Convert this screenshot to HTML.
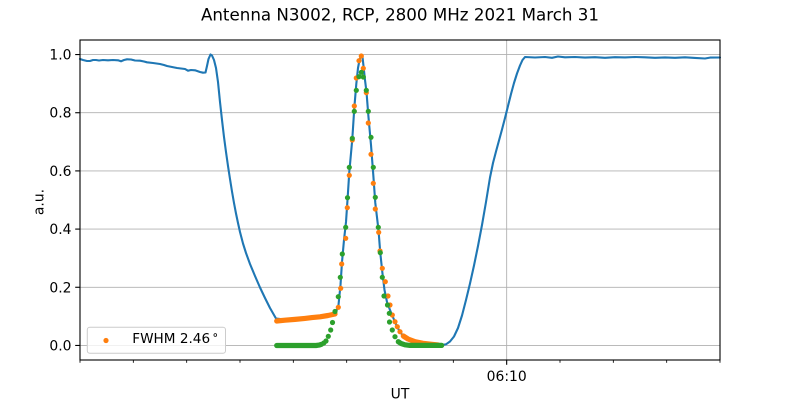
<!DOCTYPE html>
<html><head><meta charset="utf-8">
<style>
html,body{margin:0;padding:0;background:#fff;}
svg{display:block;}
text{font-family:"DejaVu Sans","Liberation Sans",sans-serif;fill:#000;}
</style></head>
<body>
<svg width="800" height="400" viewBox="0 0 800 400" xmlns="http://www.w3.org/2000/svg">
<rect x="0" y="0" width="800" height="400" fill="#fff"/>
<text x="400" y="20.7" font-size="16.7" text-anchor="middle">Antenna N3002, RCP, 2800 MHz 2021 March 31</text>

<!-- grid -->
<g stroke="#b0b0b0" stroke-width="0.9" fill="none">
<line x1="80" y1="345.45" x2="720" y2="345.45"/>
<line x1="80" y1="287.27" x2="720" y2="287.27"/>
<line x1="80" y1="229.09" x2="720" y2="229.09"/>
<line x1="80" y1="170.91" x2="720" y2="170.91"/>
<line x1="80" y1="112.73" x2="720" y2="112.73"/>
<line x1="80" y1="54.55" x2="720" y2="54.55"/>
<line x1="506.67" y1="40" x2="506.67" y2="360"/>
</g>

<!-- blue line -->
<polyline fill="none" stroke="#1f77b4" stroke-width="2.1" stroke-linejoin="round" stroke-linecap="round" points="
80,59 83,60 87,61 90,61 93,60 96,60 99,60.5 103,60 108,60.3 113,60 118,60.3 121,61.3 124,60 127,59.3 131,59.5 135,60.5 140,60.7 144,61.5 147,62.3 153,63 160,64 164,65 167,66 172,67 177,68 181,68.5 185,69 188,70.7 191,70 195,70.3 200,72 203,72.7 205.5,72.5 207,66 208.5,59 210.5,54.5 212,55.5 214,60 216,68 218,82 220,102 222,120 224,137 226,152 228,166 230,179 232,191.5 234,203 236,213.5 238,223 240,232 243,243.5 246,253 250,264 255,276 260,287.5 265,298 270,308 276,318.5
285,319.5 295,319 305,318 312,317.3 320,316.5 328,315.3 335,313.5 338.3,307 340.5,285 342,262 344,240 346,222 347.5,200 349.3,172 352.3,139 354.3,108 356.3,84 358,68 359.5,60 361.3,55 362.5,57 363.5,66 365,80 366.5,92 368.3,115 371,145 373.3,175 375.3,203 378.5,230 380.2,252 382.3,272 384.5,290 387,302 390,310 392.5,316 395,322 397.3,327 400,332 403.3,336 408,339 415,341.7 423,343.3 433,344.5 442,345 446,344.3 450,341.5 454,336.5 458,328 462,315.5 466,300 470,283.5 474,265.5 478,246 482,225 486,202 490,177.5 493,163 496,151.5 499,140.5 502,129.5 505,118 508,106 511,94 514,83 517,73.5 520,65.5 522.5,60 525,57
535,57.5 545,57 552,57.8 558,56.5 565,57.3 575,57 585,57.6 595,57.2 605,57.8 615,57.2 625,57.4 635,57 645,57.3 655,57.8 665,57.4 675,57.8 685,57.3 695,57.9 705,58.5 710,57.6 720,57.5"/>

<!-- orange -->
<g fill="#ff7f0e" stroke="none">
<polyline fill="none" stroke="#ff7f0e" stroke-width="5.2" stroke-linecap="round" stroke-linejoin="round" points="276.7,321 285,320.2 295,319.4 305,318.4 312,317.6 320,316.8 328,315.5 335,314"/>
<circle cx="338.3" cy="307.3" r="2.6"/>
<circle cx="340.7" cy="288.3" r="2.6"/>
<circle cx="341.7" cy="264" r="2.6"/>
<circle cx="345.7" cy="238.3" r="2.6"/>
<circle cx="347.3" cy="207.7" r="2.6"/>
<circle cx="349.3" cy="175.3" r="2.6"/>
<circle cx="352.3" cy="140" r="2.6"/>
<circle cx="354.3" cy="106" r="2.6"/>
<circle cx="356.3" cy="78" r="2.6"/>
<circle cx="359" cy="60.7" r="2.6"/>
<circle cx="361.3" cy="56" r="2.6"/>
<circle cx="363.3" cy="68.3" r="2.6"/>
<circle cx="366.3" cy="92.7" r="2.6"/>
<circle cx="368.3" cy="123" r="2.6"/>
<circle cx="371" cy="154.3" r="2.6"/>
<circle cx="373.3" cy="183.3" r="2.6"/>
<circle cx="375.3" cy="209" r="2.6"/>
<circle cx="378.7" cy="232.3" r="2.6"/>
<circle cx="380" cy="251" r="2.6"/>
<circle cx="382.3" cy="268.3" r="2.6"/>
<circle cx="385.3" cy="281.7" r="2.6"/>
<circle cx="388" cy="296" r="2.6"/>
<circle cx="390" cy="305" r="2.6"/>
<circle cx="392.3" cy="315" r="2.6"/>
<circle cx="395" cy="321.7" r="2.6"/>
<circle cx="397.3" cy="326.7" r="2.6"/>
<circle cx="400" cy="331.7" r="2.6"/>
<polyline fill="none" stroke="#ff7f0e" stroke-width="5.2" stroke-linecap="round" stroke-linejoin="round" points="403.3,336 408,339 415,341.7 423,343.3 433,344.5 438,345"/>
</g>

<!-- green -->
<g fill="#2ca02c" stroke="none">
<polyline fill="none" stroke="#2ca02c" stroke-width="5.2" stroke-linecap="round" stroke-linejoin="round" points="276.7,345.5 316,345.5 319,345.1 321.5,344.3"/>
<circle cx="323.8" cy="343" r="2.6"/>
<circle cx="326" cy="341" r="2.6"/>
<circle cx="328.3" cy="336.3" r="2.6"/>
<circle cx="330.7" cy="330" r="2.6"/>
<circle cx="332.5" cy="322.5" r="2.6"/>
<circle cx="335" cy="311.5" r="2.6"/>
<circle cx="338.3" cy="296.7" r="2.6"/>
<circle cx="340.3" cy="277.3" r="2.6"/>
<circle cx="342.3" cy="254" r="2.6"/>
<circle cx="345.7" cy="227.3" r="2.6"/>
<circle cx="347.5" cy="197.7" r="2.6"/>
<circle cx="349.3" cy="167.3" r="2.6"/>
<circle cx="352.3" cy="138.3" r="2.6"/>
<circle cx="354.3" cy="111.3" r="2.6"/>
<circle cx="356.3" cy="90.3" r="2.6"/>
<circle cx="359" cy="76.7" r="2.6"/>
<circle cx="361.3" cy="72.3" r="2.6"/>
<circle cx="363.3" cy="77" r="2.6"/>
<circle cx="366.3" cy="90.3" r="2.6"/>
<circle cx="368.3" cy="111.3" r="2.6"/>
<circle cx="371" cy="137.3" r="2.6"/>
<circle cx="373.3" cy="167.3" r="2.6"/>
<circle cx="375.3" cy="197.3" r="2.6"/>
<circle cx="378.3" cy="227.3" r="2.6"/>
<circle cx="380.3" cy="252.7" r="2.6"/>
<circle cx="382.3" cy="277.3" r="2.6"/>
<circle cx="384" cy="296" r="2.6"/>
<circle cx="387.5" cy="305" r="2.6"/>
<circle cx="389.3" cy="313.3" r="2.6"/>
<circle cx="389.5" cy="322" r="2.6"/>
<circle cx="392.3" cy="330" r="2.6"/>
<circle cx="395" cy="336.7" r="2.6"/>
<polyline fill="none" stroke="#2ca02c" stroke-width="5.2" stroke-linecap="round" stroke-linejoin="round" points="398.3,341.7 401,343.5 405,344.8 410,345.4 441.7,345.4"/>
</g>

<!-- spines -->
<rect x="80" y="40" width="640" height="320" fill="none" stroke="#000" stroke-width="1.1"/>

<!-- y ticks -->
<g stroke="#000" stroke-width="1.1">
<line x1="75.2" y1="345.45" x2="80" y2="345.45"/>
<line x1="75.2" y1="287.27" x2="80" y2="287.27"/>
<line x1="75.2" y1="229.09" x2="80" y2="229.09"/>
<line x1="75.2" y1="170.91" x2="80" y2="170.91"/>
<line x1="75.2" y1="112.73" x2="80" y2="112.73"/>
<line x1="75.2" y1="54.55" x2="80" y2="54.55"/>
<line x1="506.67" y1="360" x2="506.67" y2="364.8"/>
</g>
<g stroke="#000" stroke-width="0.85">
<line x1="80" y1="360" x2="80" y2="362.8"/>
<line x1="133.33" y1="360" x2="133.33" y2="362.8"/>
<line x1="186.67" y1="360" x2="186.67" y2="362.8"/>
<line x1="240" y1="360" x2="240" y2="362.8"/>
<line x1="293.33" y1="360" x2="293.33" y2="362.8"/>
<line x1="346.67" y1="360" x2="346.67" y2="362.8"/>
<line x1="400" y1="360" x2="400" y2="362.8"/>
<line x1="453.33" y1="360" x2="453.33" y2="362.8"/>
<line x1="560" y1="360" x2="560" y2="362.8"/>
<line x1="613.33" y1="360" x2="613.33" y2="362.8"/>
<line x1="666.67" y1="360" x2="666.67" y2="362.8"/>
<line x1="720" y1="360" x2="720" y2="362.8"/>
</g>

<g font-size="13.9" text-anchor="end">
<text x="71.5" y="350.5">0.0</text>
<text x="71.5" y="292.3">0.2</text>
<text x="71.5" y="234.1">0.4</text>
<text x="71.5" y="175.9">0.6</text>
<text x="71.5" y="117.7">0.8</text>
<text x="71.5" y="59.6">1.0</text>
</g>
<text x="506.67" y="381" font-size="13.9" text-anchor="middle">06:10</text>
<text x="400" y="398.5" font-size="13.9" text-anchor="middle">UT</text>
<text transform="translate(43.5,202) rotate(-90)" font-size="13.9" text-anchor="middle">a.u.</text>

<!-- legend -->
<rect x="87.3" y="327.3" width="138.2" height="26" rx="2.5" ry="2.5" fill="#fff" fill-opacity="0.8" stroke="#cccccc" stroke-width="1"/>
<circle cx="106" cy="340.5" r="2.6" fill="#ff7f0e"/>
<text x="132.3" y="343" font-size="13.6">FWHM 2.46</text>
<circle cx="215.3" cy="335" r="1.4" fill="none" stroke="#000" stroke-width="0.7"/>
</svg>
</body></html>
